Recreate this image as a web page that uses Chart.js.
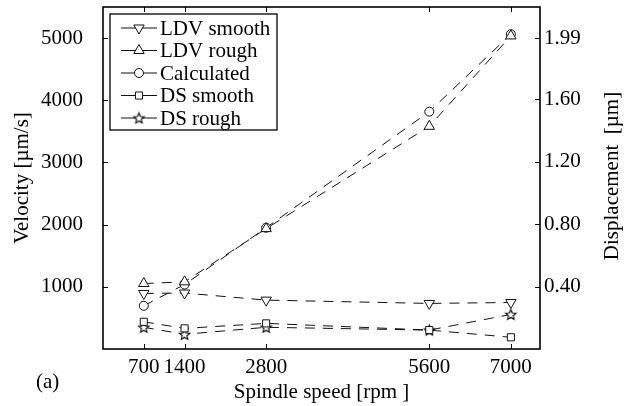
<!DOCTYPE html>
<html>
<head>
<meta charset="utf-8">
<script src="https://cdn.jsdelivr.net/npm/chart.js@4.4.1/dist/chart.umd.min.js"></script>
<style>
  html, body { margin: 0; padding: 0; background: #fff; }
  #wrap { width: 626px; height: 406px; }
</style>
</head>
<body>
<div id="wrap"><canvas id="speedChart" width="626" height="406"></canvas></div>
<script>
// data
const spindleSpeeds = [700, 1400, 2800, 5600, 7000];
const ldvSmooth  = [893, 900, 786, 733, 748];       // µm/s
const ldvRough   = [1053, 1080, 1936, 3581, 5035];  // µm/s
const calculated = [695, 1037, 1950, 3817, 5063];   // µm/s
const dsSmooth   = [0.174, 0.132, 0.164, 0.121, 0.075]; // µm
const dsRough    = [0.139, 0.094, 0.139, 0.121, 0.221]; // µm

const velocityTicks     = [1000, 2000, 3000, 4000, 5000];
const displacementTicks = [0.40, 0.80, 1.20, 1.60, 1.99];

const FONT = 'Liberation Serif, Times New Roman, serif';
const INK  = '#111';

function makeStar(r) {
  const c = document.createElement('canvas');
  const size = Math.ceil(r * 2 + 4);
  c.width = c.height = size;
  const g = c.getContext('2d');
  g.translate(size / 2, size / 2 + 0.5);
  g.beginPath();
  for (let i = 0; i < 10; i++) {
    const rr = i % 2 ? r * 0.45 : r;
    const a = -Math.PI / 2 + i * Math.PI / 5;
    g.lineTo(Math.cos(a) * rr, Math.sin(a) * rr);
  }
  g.closePath();
  g.fillStyle = '#fff';
  g.fill();
  g.strokeStyle = '#000';
  g.lineWidth = 1.1;
  g.stroke();
  return c;
}
const starImg = makeStar(5.5);

function pts(values) {
  return values.map((v, i) => ({ x: spindleSpeeds[i], y: v }));
}

function series(label, values, axis, style, radius, rotation) {
  return {
    label: label,
    data: pts(values),
    yAxisID: axis,
    borderColor: INK,
    borderWidth: 1,
    borderDash: [10, 8],
    tension: 0,
    fill: false,
    pointStyle: style,
    rotation: rotation || 0,
    pointRadius: radius,
    pointBackgroundColor: '#fff',
    pointBorderColor: INK,
    pointBorderWidth: 1
  };
}

const datasets = [
  series('LDV smooth', ldvSmooth, 'y', 'triangle', 6, 180),
  series('LDV rough', ldvRough, 'y', 'triangle', 6),
  series('Calculated', calculated, 'y', 'circle', 4.5),
  series('DS smooth', dsSmooth, 'y1', 'rect', 5),
  series('DS rough', dsRough, 'y1', starImg, 5)
];

// frame, inward ticks, boxed legend, right title
const framePlugin = {
  id: 'frame',
  afterDraw(chart) {
    const ctx = chart.ctx;
    const a = chart.chartArea;
    const sx = chart.scales.x, sy = chart.scales.y, sy1 = chart.scales.y1;
    const tick = 5;

    ctx.save();
    ctx.strokeStyle = '#000';
    ctx.lineWidth = 1;
    ctx.beginPath();
    spindleSpeeds.forEach(v => {
      const px = Math.round(sx.getPixelForValue(v)) + 0.5;
      ctx.moveTo(px, a.bottom); ctx.lineTo(px, a.bottom - tick);
      ctx.moveTo(px, a.top);    ctx.lineTo(px, a.top + tick);
    });
    velocityTicks.forEach(v => {
      const py = Math.round(sy.getPixelForValue(v)) + 0.5;
      ctx.moveTo(a.left, py); ctx.lineTo(a.left + tick, py);
    });
    displacementTicks.forEach(v => {
      const py = Math.round(sy1.getPixelForValue(v)) + 0.5;
      ctx.moveTo(a.right, py); ctx.lineTo(a.right - tick, py);
    });
    ctx.stroke();

    ctx.lineWidth = 1.6;
    ctx.strokeRect(a.left, a.top, a.right - a.left, a.bottom - a.top);

    // legend box
    const lx = a.left + 7, ly = a.top + 7, lw = 167, lh = 116;
    ctx.fillStyle = '#fff';
    ctx.fillRect(lx, ly, lw, lh);
    ctx.lineWidth = 1.3;
    ctx.strokeRect(lx, ly, lw, lh);

    ctx.font = '21px ' + FONT;
    ctx.textBaseline = 'middle';
    ctx.textAlign = 'left';
    chart.data.datasets.forEach((ds, i) => {
      const cy = ly + 14 + i * 22.5;
      const cx = lx + 29;
      ctx.strokeStyle = INK;
      ctx.lineWidth = 1;
      ctx.beginPath();
      ctx.moveTo(cx - 18, cy); ctx.lineTo(cx + 18, cy);
      ctx.stroke();
      ctx.fillStyle = '#fff';
      Chart.helpers.drawPoint(ctx, {
        pointStyle: ds.pointStyle,
        rotation: ds.rotation,
        radius: ds.pointRadius,
        borderWidth: 1
      }, cx, cy);
      ctx.fillStyle = '#000';
      ctx.fillText(ds.label, lx + 50, cy + 1);
    });

    // right axis title reads bottom-to-top
    ctx.save();
    ctx.translate(612, (a.top + a.bottom) / 2 - 2);
    ctx.rotate(-Math.PI / 2);
    ctx.textAlign = 'center';
    ctx.fillStyle = '#000';
    ctx.font = '21px ' + FONT;
    ctx.fillText('Displacement  [µm]', 0, 0);
    ctx.restore();

    ctx.textAlign = 'left';
    ctx.fillText('(a)', 36, 382);
    ctx.restore();
  }
};

const tickFont = { family: FONT, size: 21 };

function noPad(s) {
  s.paddingTop = 0;
  s.paddingBottom = 0;
  s.paddingLeft = 0;
  s.paddingRight = 0;
}

new Chart(document.getElementById('speedChart'), {
  type: 'line',
  data: { datasets: datasets },
  plugins: [framePlugin],
  options: {
    responsive: false,
    animation: false,
    devicePixelRatio: 1,
    layout: { padding: { top: 6, left: 0, right: 0, bottom: 0 } },
    plugins: {
      legend: { display: false },
      tooltip: { enabled: false }
    },
    scales: {
      x: {
        type: 'linear',
        position: 'bottom',
        min: 0,
        max: 7500,
        afterBuildTicks: s => { s.ticks = spindleSpeeds.map(v => ({ value: v })); },
        afterFit: s => { s.height = 57; noPad(s); },
        grid: { display: false, drawTicks: false },
        border: { display: false },
        ticks: { font: tickFont, color: '#000', padding: 6, maxRotation: 0, autoSkip: false, callback: v => String(v) },
        title: { display: true, text: 'Spindle speed [rpm ]', font: tickFont, color: '#000', padding: { top: 0, bottom: 1 } }
      },
      y: {
        type: 'linear',
        position: 'left',
        min: 0,
        max: 5500,
        afterBuildTicks: s => { s.ticks = velocityTicks.map(v => ({ value: v })); },
        afterFit: s => { s.width = 103; noPad(s); },
        grid: { display: false, drawTicks: false },
        border: { display: false },
        ticks: { font: tickFont, color: '#000', padding: 20, callback: v => String(v) },
        title: { display: true, text: 'Velocity [µm/s]', font: tickFont, color: '#000', padding: { top: 10, bottom: 0 } }
      },
      y1: {
        type: 'linear',
        position: 'right',
        min: 0,
        max: 2.189,
        afterBuildTicks: s => { s.ticks = displacementTicks.map(v => ({ value: v })); },
        afterFit: s => { s.width = 86; noPad(s); },
        grid: { display: false, drawTicks: false },
        border: { display: false },
        ticks: { font: tickFont, color: '#000', padding: 4, callback: v => v.toFixed(2) }
      }
    }
  }
});
</script>
</body>
</html>
